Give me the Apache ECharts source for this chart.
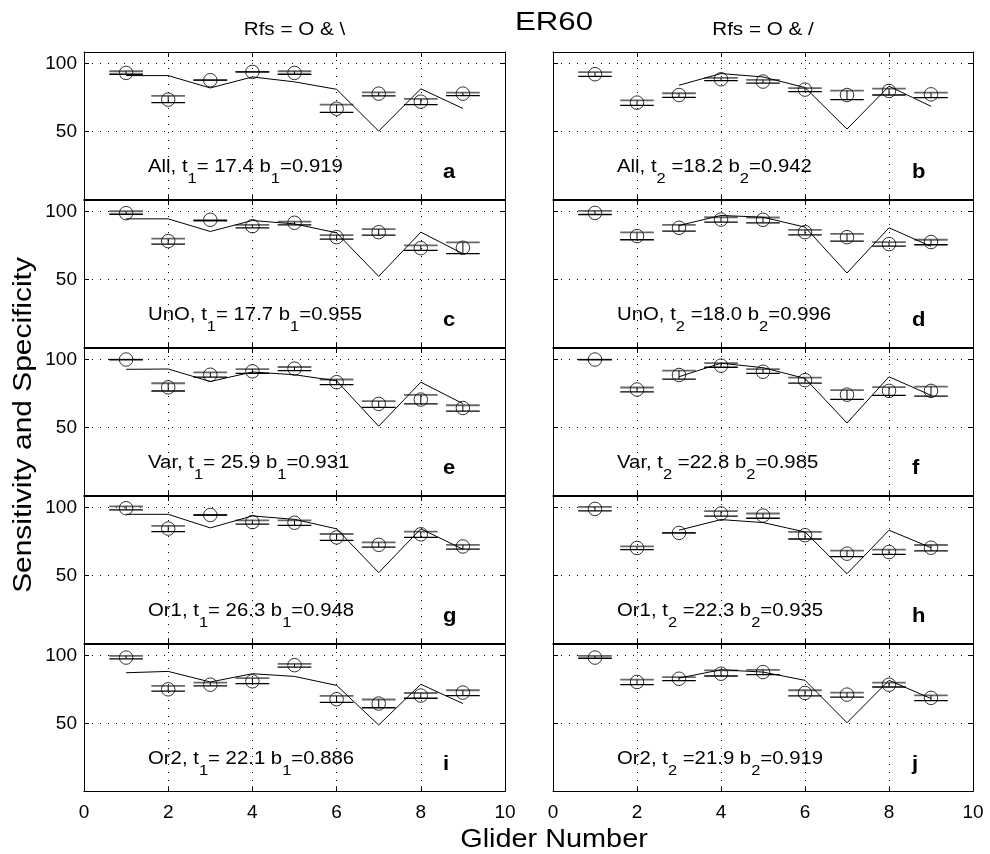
<!DOCTYPE html>
<html><head><meta charset="utf-8">
<script src="https://cdn.jsdelivr.net/npm/echarts@6/dist/echarts.min.js"></script>
<style>html,body{margin:0;padding:0;background:#fff}#c{width:990px;height:854px}</style>
</head><body><div id="c"></div>
<script>
// ---------------- data ----------------
const glider = [1, 2, 3, 4, 5, 6, 7, 8, 9];
const xTickLabels = [0, 2, 4, 6, 8, 10];
const yTickLabels = [50, 100];
const figTitle = 'ER60';
const colTitles = ['Rfs = O & \\', 'Rfs = O & /'];
const xName = 'Glider Number';
const yName = 'Sensitivity and Specificity';
const panelLetters = ['a', 'b', 'c', 'd', 'e', 'f', 'g', 'h', 'i', 'j'];
const annotations = [
  'All, t{s|1}= 17.4 b{s|1}=0.919', 'All, t{s|2} =18.2 b{s|2}=0.942',
  'UnO, t{s|1}= 17.7 b{s|1}=0.955', 'UnO, t{s|2} =18.0 b{s|2}=0.996',
  'Var, t{s|1}= 25.9 b{s|1}=0.931', 'Var, t{s|2} =22.8 b{s|2}=0.985',
  'Or1, t{s|1}= 26.3 b{s|1}=0.948', 'Or1, t{s|2} =22.3 b{s|2}=0.935',
  'Or2, t{s|1}= 22.1 b{s|1}=0.886', 'Or2, t{s|2} =21.9 b{s|2}=0.919'
];

const aMean  = [93.1, 73.4, 87.7, 93.8, 93.1, 66.7, 77.8, 71.9, 77.8];
const aUpper = [94.3, 76.1, 87.7, 93.8, 94.3, 69.7, 78.8, 73.9, 78.6];
const aLower = [92.1, 71.2, 87.7, 93.8, 92.1, 64.0, 76.1, 69.7, 76.4];
const aModel = [91.1, 91.1, 82.0, 90.1, 86.5, 81.0, 50.2, 81.4, 66.9];

const bMean  = [92.1, 71.2, 76.8, 88.4, 86.7, 80.8, 76.8, 79.8, 77.3];
const bUpper = [93.6, 72.9, 78.1, 89.4, 87.9, 81.8, 80.0, 81.5, 78.6];
const bLower = [90.6, 69.2, 75.1, 87.4, 85.5, 79.3, 73.4, 76.8, 74.9];
const bModel = [null, null, 84.0, 92.6, 90.1, 82.3, 51.7, 83.3, 68.5];

const cMean  = [98.8, 78.2, 93.9, 89.2, 91.7, 81.1, 84.8, 73.0, 73.3];
const cUpper = [100.2, 80.1, 93.4, 90.2, 92.6, 82.6, 87.0, 75.0, 77.2];
const cLower = [98.0, 76.0, 93.4, 88.0, 90.2, 79.7, 82.6, 71.3, 68.9];
const cModel = [94.6, 94.6, 85.3, 93.4, 90.9, 84.3, 52.2, 84.8, 68.9];

const dMean  = [99.0, 81.9, 88.0, 94.1, 93.9, 84.8, 81.1, 76.0, 77.5];
const dUpper = [100.5, 84.6, 90.2, 95.8, 95.6, 86.5, 83.6, 77.5, 79.2];
const dLower = [97.8, 79.2, 85.5, 92.2, 91.7, 82.8, 78.2, 74.5, 75.5];
const dModel = [null, null, 89.7, 97.1, 95.8, 88.5, 54.7, 88.0, 74.3];

const eMean  = [100, 79.5, 88.8, 91.3, 93.3, 83.3, 67.3, 70.5, 64.3];
const eUpper = [100, 82.5, 90.5, 93.0, 94.5, 85.3, 69.3, 74.0, 66.3];
const eLower = [100, 76.8, 87.0, 89.8, 91.8, 81.5, 64.8, 67.3, 62.0];
const eModel = [92.8, 93.0, 83.8, 90.8, 88.8, 84.3, 50.8, 83.3, 67.5];

const fMean  = [100, 77.9, 88.6, 95.5, 91.0, 84.8, 74.1, 76.9, 76.9];
const fUpper = [100, 79.4, 91.8, 97.3, 93.0, 86.6, 77.4, 79.6, 80.1];
const fLower = [100, 76.1, 85.6, 94.3, 89.8, 82.6, 70.6, 73.6, 73.1];
const fModel = [null, null, 87.3, 97.3, 94.0, 86.1, 53.2, 87.3, 73.6];

const gMean  = [99.5, 84.5, 94.5, 89.3, 88.8, 78.0, 72.5, 80.3, 71.3];
const gUpper = [100.8, 86.5, 94.5, 90.5, 90.5, 80.5, 74.3, 82.3, 72.5];
const gLower = [98.3, 82.3, 94.5, 87.8, 86.8, 75.8, 70.8, 78.0, 69.3];
const gModel = [95.0, 95.0, 85.0, 93.8, 91.3, 84.3, 52.0, 84.3, 69.3];

const hMean  = [99.0, 70.2, 81.3, 95.6, 94.1, 79.6, 66.0, 67.2, 70.4];
const hUpper = [100.5, 71.4, 81.3, 97.3, 95.6, 82.0, 68.2, 69.0, 72.4];
const hLower = [97.5, 69.0, 81.3, 93.6, 92.1, 76.8, 63.8, 65.5, 68.0];
const hModel = [null, null, 83.3, 91.1, 88.9, 82.0, 51.2, 83.3, 70.4];

const iMean  = [98.5, 75.1, 78.5, 81.0, 92.9, 67.8, 64.6, 70.5, 72.7];
const iUpper = [99.8, 77.6, 80.0, 83.4, 93.9, 70.2, 67.6, 72.4, 74.4];
const iLower = [97.6, 73.7, 77.6, 79.3, 91.5, 65.4, 61.5, 68.5, 70.5];
const iModel = [87.3, 88.3, 80.5, 86.6, 84.6, 78.0, 48.8, 78.8, 64.6];

const jMean  = [98.5, 80.5, 82.9, 86.6, 87.8, 72.4, 71.2, 78.5, 68.8];
const jUpper = [99.8, 82.2, 84.1, 89.0, 89.5, 74.4, 72.7, 80.0, 70.7];
const jLower = [98.0, 78.5, 81.5, 84.9, 85.9, 70.2, 69.3, 76.8, 66.8];
const jModel = [null, null, 83.4, 89.5, 87.8, 81.7, 50.5, 81.7, 68.3];

const panelData = [
  [aMean, aUpper, aLower, aModel], [bMean, bUpper, bLower, bModel],
  [cMean, cUpper, cLower, cModel], [dMean, dUpper, dLower, dModel],
  [eMean, eUpper, eLower, eModel], [fMean, fUpper, fLower, fModel],
  [gMean, gUpper, gLower, gModel], [hMean, hUpper, hLower, hModel],
  [iMean, iUpper, iLower, iModel], [jMean, jUpper, jLower, jModel]
];

// ---------------- layout / style ----------------
const FONT = '"Liberation Sans", Arial, Helvetica, sans-serif';
const colLeft = [84, 553], colWidth = [421, 420];
const rowTop = [52, 200, 348, 496, 644], rowH = 147.2;
const barHalf = 0.4;
const black = '#000';
const axLine = { color: black, width: 1 };
const dotted = { color: black, width: 1, type: [1, 7] };

const grid = [], xAxis = [], yAxis = [], series = [], graphic = [];

panelData.forEach((pd, k) => {
  const r = Math.floor(k / 2), c = k % 2;
  const [mean, upper, lower, model] = pd;
  grid.push({ left: colLeft[c], top: rowTop[r], width: colWidth[c], height: rowH, show: false, containLabel: false, outerBoundsMode: 'none' });
  const xBase = { gridIndex: k, type: 'value', min: 0, max: 10, interval: 2 };
  const yBase = { gridIndex: k, type: 'value', min: 0, max: 108.5, interval: 50 };
  const tick = { show: true, inside: true, length: 5, lineStyle: axLine };
  xAxis.push(Object.assign({}, xBase, {
    position: 'bottom',
    axisLine: { show: true, onZero: false, lineStyle: axLine }, axisTick: tick,
    axisLabel: { show: r === 4, color: black, fontSize: 19, fontFamily: FONT, margin: 12,
      formatter: v => xTickLabels.includes(v) ? String(v) : '' },
    splitLine: { show: true, lineStyle: dotted }
  }));
  xAxis.push(Object.assign({}, xBase, {
    position: 'top',
    axisLine: { show: true, onZero: false, lineStyle: axLine }, axisTick: tick,
    axisLabel: { show: false }, splitLine: { show: false }
  }));
  yAxis.push(Object.assign({}, yBase, {
    position: 'left',
    axisLine: { show: true, onZero: false, lineStyle: axLine }, axisTick: tick,
    axisLabel: { show: c === 0, color: black, fontSize: 19, fontFamily: FONT, margin: 7,
      formatter: v => yTickLabels.includes(v) ? String(v) : '' },
    splitLine: { show: true, lineStyle: dotted }
  }));
  yAxis.push(Object.assign({}, yBase, {
    position: 'right',
    axisLine: { show: true, onZero: false, lineStyle: axLine }, axisTick: tick,
    axisLabel: { show: false }, splitLine: { show: false }
  }));

  const xi = 2 * k, yi = 2 * k;
  series.push({
    type: 'custom', xAxisIndex: xi, yAxisIndex: yi, silent: true,
    encode: { x: 0, y: [1, 2] },
    data: glider.map((g, i) => [g, upper[i], lower[i]]),
    renderItem: (params, api) => {
      const x = api.value(0), up = api.value(1), lo = api.value(2);
      const a1 = api.coord([x - barHalf, up]), a2 = api.coord([x + barHalf, up]);
      const b1 = api.coord([x - barHalf, lo]), b2 = api.coord([x + barHalf, lo]);
      const v1 = api.coord([x, up]), v2 = api.coord([x, lo]);
      return { type: 'group', children: [
        { type: 'line', shape: { x1: a1[0], y1: a1[1], x2: a2[0], y2: a2[1] }, style: { stroke: '#686868', lineWidth: 1.8 } },
        { type: 'line', shape: { x1: b1[0], y1: b1[1], x2: b2[0], y2: b2[1] }, style: { stroke: black, lineWidth: 1.3 } },
        { type: 'line', shape: { x1: v1[0], y1: v1[1], x2: v2[0], y2: v2[1] }, style: { stroke: black, lineWidth: 1 } }
      ] };
    }
  });
  series.push({
    type: 'scatter', xAxisIndex: xi, yAxisIndex: yi, silent: true,
    symbol: 'circle', symbolSize: 13.5,
    itemStyle: { color: 'rgba(0,0,0,0)', borderColor: black, borderWidth: 1 },
    data: glider.map((g, i) => [g, mean[i]])
  });
  series.push({
    type: 'line', xAxisIndex: xi, yAxisIndex: yi, silent: true,
    symbol: 'none', lineStyle: { color: black, width: 1 },
    data: glider.map((g, i) => [g, model[i]]).filter(d => d[1] !== null)
  });

  graphic.push({
    type: 'text', x: colLeft[c] + 64, y: rowTop[r] + 115.4, scaleX: 1.1, silent: true,
    style: { text: annotations[k], fill: black, fontSize: 18.5, fontFamily: FONT,
      align: 'left', verticalAlign: 'middle', lineHeight: 22,
      rich: { s: { fontSize: 15, lineHeight: 15, padding: [22, 0, 0, 0], fontFamily: FONT, fill: black } } }
  });
  graphic.push({
    type: 'text', x: colLeft[c] + 359, y: rowTop[r] + 120, scaleX: 1.1, silent: true,
    style: { text: panelLetters[k], fill: black, fontSize: 20, fontWeight: 'bold', fontFamily: FONT,
      align: 'left', verticalAlign: 'middle' }
  });
});

graphic.push({ type: 'text', x: 554, y: 23, scaleX: 1.2, silent: true,
  style: { text: figTitle, fill: black, fontSize: 26, fontFamily: FONT, align: 'center', verticalAlign: 'middle' } });
colTitles.forEach((t, c) => {
  graphic.push({ type: 'text', x: colLeft[c] + colWidth[c] / 2, y: 30.5, scaleX: 1.18, silent: true,
    style: { text: t, fill: black, fontSize: 17.5, fontFamily: FONT, align: 'center', verticalAlign: 'middle' } });
});
graphic.push({ type: 'text', x: 554, y: 840, scaleX: 1.11, silent: true,
  style: { text: xName, fill: black, fontSize: 26, fontFamily: FONT, align: 'center', verticalAlign: 'middle' } });
graphic.push({ type: 'text', x: 24, y: 425, rotation: Math.PI / 2, scaleX: 1.15, silent: true,
  style: { text: yName, fill: black, fontSize: 26, fontFamily: FONT, align: 'center', verticalAlign: 'middle' } });

const chart = echarts.init(document.getElementById('c'), null, { renderer: 'canvas' });
chart.setOption({
  animation: false,
  backgroundColor: '#fff',
  grid, xAxis, yAxis, series, graphic
});
</script>
</body></html>
